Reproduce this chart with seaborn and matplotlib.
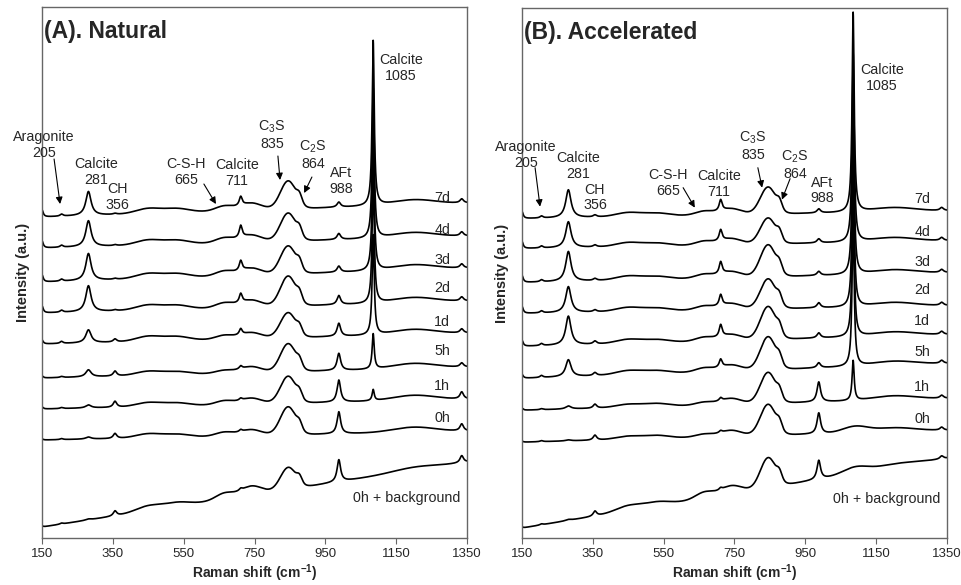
import numpy as np
import pandas as pd
import matplotlib
matplotlib.use("Agg")
import matplotlib.pyplot as plt
import seaborn as sns

# Raman bands used to describe every spectrum (cm-1), their half widths and line shape
peak_pos = [150, 205, 281, 356, 450, 530, 665, 711, 740, 845, 877, 988, 1085, 1090, 1200, 1335]
peak_width = [4, 5, 9, 6, 35, 35, 25, 5, 30, 22, 7, 6, 3.5, 35, 60, 6]
peak_shape = ["L", "L", "L", "L", "G", "G", "G", "L", "G", "G", "G", "L", "L", "G", "G", "L"]

spectra = ["7d", "4d", "3d", "2d", "1d", "5h", "1h", "0h", "0h + background"]

# (A) Natural: baseline level, rise over the range, band heights (a.u.)
nat_offset = [321, 290, 256, 225, 194, 160, 129, 98, 11]
nat_rise = [14, 12, 14, 12, 11, 11, 10, 9, 65]
nat_heights = [
    [7, 2, 24, 1, 5, 4, 5, 9, 7, 28, 7, 5, 165, 0, 5, 4],
    [7, 2, 26, 1, 5, 4, 5, 12, 7, 28, 7, 6, 150, 0, 5, 4],
    [7, 2, 27, 1, 5, 4, 5, 10, 7, 28, 7, 6, 140, 0, 5, 4],
    [7, 2, 26, 1, 5, 4, 5, 9, 7, 30, 7, 9, 130, 0, 5, 4],
    [4, 2, 13, 3, 5, 4, 4, 6, 6, 25, 6, 13, 100, 0, 5, 4],
    [2, 1, 7, 5, 4, 3, 3, 3, 6, 28, 6, 17, 35, 0, 5, 4],
    [2, 1, 3, 6, 4, 3, 4, 2, 6, 27, 6, 22, 11, 0, 5, 7],
    [1, 1, 2, 5, 4, 3, 4, 2, 6, 28, 6, 22, 0, 0, 5, 7],
    [1, 1, 1, 5, 5, 4, 6, 2, 9, 22, 6, 22, 0, 0, 3, 7],
]

# (B) Accelerated
acc_offset = [320, 290, 256, 225, 192, 160, 128, 96, 10]
acc_rise = [8, 8, 10, 8, 12, 15, 12, 12, 70]
acc_heights = [
    [7, 2, 28, 2, 4, 3, 4, 11, 6, 27, 7, 4, 200, 0, 4, 3],
    [7, 2, 26, 2, 4, 3, 4, 11, 6, 26, 7, 4, 190, 0, 4, 3],
    [7, 2, 30, 2, 4, 3, 4, 12, 6, 32, 7, 4, 180, 0, 4, 3],
    [7, 2, 26, 2, 4, 3, 4, 11, 6, 30, 7, 5, 170, 0, 4, 3],
    [6, 2, 29, 3, 4, 3, 4, 12, 6, 33, 7, 5, 160, 0, 4, 3],
    [4, 2, 17, 3, 4, 3, 4, 8, 6, 33, 7, 5, 150, 0, 4, 3],
    [2, 1, 3, 4, 3, 3, 3, 3, 6, 31, 7, 20, 40, 0, 4, 3],
    [1, 1, 1, 5, 3, 3, 3, 2, 6, 31, 7, 21, 0, 6, 4, 3],
    [1, 1, 1, 5, 5, 4, 6, 2, 8, 30, 7, 19, 0, 6, 3, 3],
]

# label y positions on the right of each panel
nat_label_y = [340, 308, 278, 250, 216, 187, 152, 120, 40]
acc_label_y = [340, 307, 277, 248, 217, 186, 151, 119, 39]

shift = np.arange(150, 1350.5, 0.5)


def build(offsets, rises, heights):
    rows = []
    for name, off, rise, hs in zip(spectra, offsets, rises, heights):
        y = off + rise * (shift - 150) / 1200
        for p, w, s, h in zip(peak_pos, peak_width, peak_shape, hs):
            if s == "L":
                y = y + h * w ** 2 / ((shift - p) ** 2 + w ** 2)
            else:
                y = y + h * np.exp(-((shift - p) ** 2) / (2 * w ** 2))
        rows.append(pd.DataFrame({"shift": shift, "intensity": y, "spectrum": name}))
    return pd.concat(rows, ignore_index=True)


sns.set_style("white")
plt.rcParams["font.family"] = ["Liberation Sans", "DejaVu Sans"]
plt.rcParams["mathtext.fontset"] = "custom"
plt.rcParams["mathtext.rm"] = "Liberation Sans"
plt.rcParams["mathtext.bf"] = "Liberation Sans:bold"

fig = plt.figure(figsize=(9.62, 5.85), dpi=100)
axA = fig.add_axes([0.0437, 0.0803, 0.4418, 0.9077])
axB = fig.add_axes([0.5426, 0.0803, 0.4418, 0.9060])

fs = 10.3
panels = [
    (axA, "(A). Natural", nat_offset, nat_rise, nat_heights, nat_label_y, {
        "Aragonite\n205": (156, 393), "Calcite\n281": (302, 366), "CH\n356": (362, 341),
        "C-S-H\n665": (557, 366), "Calcite\n711": (701, 365), "C$_3$S\n835": (799, 403),
        "C$_2$S\n864": (915, 383), "AFt\n988": (994, 357), "Calcite\n1085": (1164, 470)},
     [((184, 379), (201, 334)), ((607, 354), (641, 334)),
      ((816, 382), (822, 358)), ((912, 361), (890, 345))]),
    (axB, "(B). Accelerated", acc_offset, acc_rise, acc_heights, acc_label_y, {
        "Aragonite\n205": (161, 384), "Calcite\n281": (308, 373), "CH\n356": (356, 341),
        "C-S-H\n665": (562, 356), "Calcite\n711": (706, 355), "C$_3$S\n835": (802, 393),
        "C$_2$S\n864": (921, 374), "AFt\n988": (997, 348), "Calcite\n1085": (1166, 461)},
     [((187, 371), (201, 332)), ((605, 351), (638, 331)),
      ((816, 371), (828, 351)), ((907, 360), (884, 339))]),
]

for ax, title, offs, rises, hts, label_y, notes, arrows in panels:
    df = build(offs, rises, hts)
    sns.lineplot(data=df, x="shift", y="intensity", units="spectrum", estimator=None,
                 color="black", lw=1.2, ax=ax, legend=False)
    ax.set_xlim(150, 1350)
    ax.set_ylim(0, 531)
    ax.set_xticks(range(150, 1351, 200))
    ax.set_yticks([])
    ax.tick_params(axis="x", bottom=True, direction="out", length=4, width=0.8,
                   color="#666666", labelsize=9.5, pad=3)
    for sp in ax.spines.values():
        sp.set_color("#666666")
        sp.set_linewidth(1.0)
    ax.set_xlabel("Raman shift (cm$^{\\mathbf{-1}}$)", fontsize=10, fontweight="bold", labelpad=2)
    ax.set_ylabel("Intensity (a.u.)", fontsize=10.5, fontweight="bold", labelpad=9)
    ax.text(0.004, 0.953, title, transform=ax.transAxes, fontsize=16.5,
            fontweight="bold", va="center", ha="left")
    for txt, (x, y) in notes.items():
        ax.text(x, y, txt, fontsize=fs, ha="center", va="center", linespacing=1.15)
    for tail, tip in arrows:
        ax.annotate("", xy=tip, xytext=tail,
                    arrowprops=dict(arrowstyle="-|>", color="black", lw=0.8,
                                    mutation_scale=10, shrinkA=0, shrinkB=0))
    for name, ly in zip(spectra, label_y):
        lx = 1180 if name == "0h + background" else 1280
        ax.text(lx, ly, name, fontsize=fs, ha="center", va="center")

fig.savefig("out.png", dpi=100)
